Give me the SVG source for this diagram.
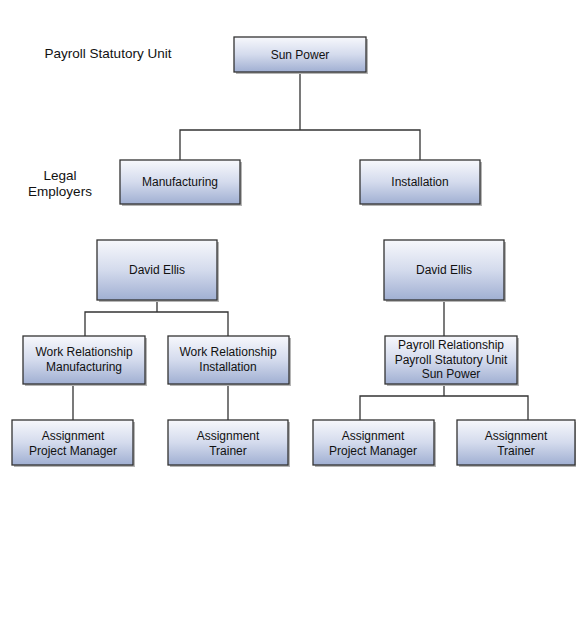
<svg xmlns="http://www.w3.org/2000/svg" width="576" height="624" viewBox="0 0 576 624">
<defs>
<linearGradient id="g" x1="0" y1="0" x2="0" y2="1">
<stop offset="0" stop-color="#f7f8fc"/>
<stop offset="0.5" stop-color="#d4dbed"/>
<stop offset="1" stop-color="#a0afd2"/>
</linearGradient>
</defs>
<style>
.box{fill:url(#g);stroke:#333;stroke-width:1.3}
.sh{fill:#b5b5b5}
text{font-family:"Liberation Sans",Arial,sans-serif;font-size:12px;fill:#111;text-anchor:middle}
.lbl{font-size:13.5px}
.c{fill:none;stroke:#333;stroke-width:1.3}
</style>
<rect width="576" height="624" fill="#fff"/>
<g id="connectors">
<path class="c" d="M300 72V130M180 160V130H420V160"/>
<path class="c" d="M157 300V312M85 336V312H228V336"/>
<path class="c" d="M73 384V420M228 384V420"/>
<path class="c" d="M444 300V336"/>
<path class="c" d="M444 384V396M360 420V396H528V420"/>
</g>
<g id="label-psu"><text class="lbl" x="108" y="58">Payroll Statutory Unit</text></g>
<g id="label-le"><text class="lbl" x="60" y="180">Legal</text><text class="lbl" x="60" y="196">Employers</text></g>
<g id="sun-power"><rect class="sh" x="236" y="39" width="132" height="35"/><rect class="box" x="234" y="37" width="132" height="35"/><text x="300" y="59">Sun Power</text></g>
<g id="manufacturing"><rect class="sh" x="122" y="162" width="120" height="44"/><rect class="box" x="120" y="160" width="120" height="44"/><text x="180" y="186">Manufacturing</text></g>
<g id="installation"><rect class="sh" x="362" y="162" width="120" height="44"/><rect class="box" x="360" y="160" width="120" height="44"/><text x="420" y="186">Installation</text></g>
<g id="david-ellis-1"><rect class="sh" x="99" y="242" width="120" height="60"/><rect class="box" x="97" y="240" width="120" height="60"/><text x="157" y="274">David Ellis</text></g>
<g id="david-ellis-2"><rect class="sh" x="386" y="242" width="120" height="60"/><rect class="box" x="384" y="240" width="120" height="60"/><text x="444" y="274">David Ellis</text></g>
<g id="wr-manufacturing"><rect class="sh" x="25" y="338" width="122" height="48"/><rect class="box" x="23" y="336" width="122" height="48"/><text x="84" y="356">Work Relationship</text><text x="84" y="371">Manufacturing</text></g>
<g id="wr-installation"><rect class="sh" x="170" y="338" width="121" height="48"/><rect class="box" x="168" y="336" width="121" height="48"/><text x="228" y="356">Work Relationship</text><text x="228" y="371">Installation</text></g>
<g id="payroll-relationship"><rect class="sh" x="387" y="338" width="132" height="48"/><rect class="box" x="385" y="336" width="132" height="48"/><text x="451" y="349">Payroll Relationship</text><text x="451" y="363.5">Payroll Statutory Unit</text><text x="451" y="378">Sun Power</text></g>
<g id="asg-pm-1"><rect class="sh" x="14" y="422" width="121" height="45"/><rect class="box" x="12" y="420" width="121" height="45"/><text x="73" y="440">Assignment</text><text x="73" y="455">Project Manager</text></g>
<g id="asg-trainer-1"><rect class="sh" x="170" y="422" width="120" height="45"/><rect class="box" x="168" y="420" width="120" height="45"/><text x="228" y="440">Assignment</text><text x="228" y="455">Trainer</text></g>
<g id="asg-pm-2"><rect class="sh" x="315" y="422" width="121" height="45"/><rect class="box" x="313" y="420" width="121" height="45"/><text x="373" y="440">Assignment</text><text x="373" y="455">Project Manager</text></g>
<g id="asg-trainer-2"><rect class="sh" x="459" y="422" width="118" height="45"/><rect class="box" x="457" y="420" width="118" height="45"/><text x="516" y="440">Assignment</text><text x="516" y="455">Trainer</text></g>
</svg>
